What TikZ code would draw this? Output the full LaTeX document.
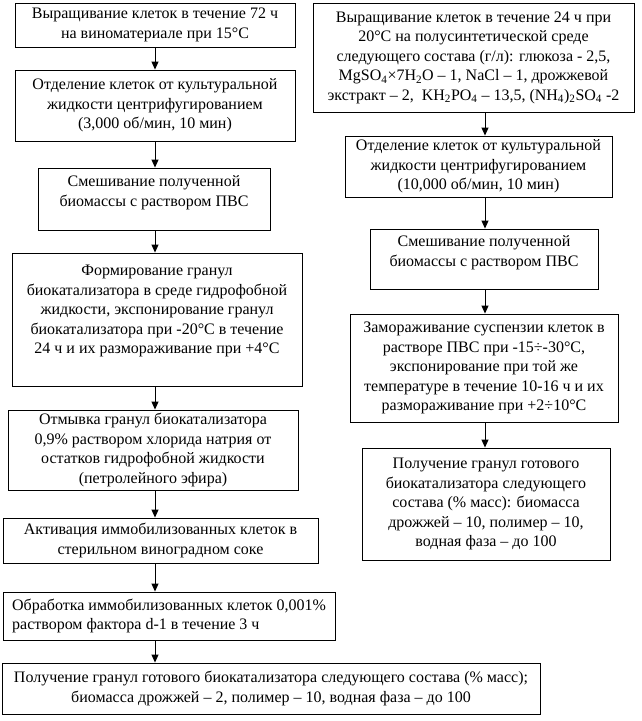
\documentclass[tikz,border=0pt]{standalone}
\usepackage{fontspec}
\setmainfont{Liberation Serif}
\usepackage{tikz}
\usetikzlibrary{arrows.meta, positioning}

\begin{document}
\begin{tikzpicture}[
  x=1pt, y=-1pt,
  every node/.style={font=\fontsize{16}{19.5}\selectfont},
  stage/.style={draw, line width=0.9pt, inner sep=2pt, align=center},
  arr/.style={line width=0.9pt, -{Triangle[length=8pt, width=7pt]}},
]
  \useasboundingbox (0,0) rectangle (641,721);

  % Column axes for the arrows
  \coordinate (colL) at (155,0);
  \coordinate (colR) at (485,0);

  % Left column
  \node[stage, minimum width=280pt, minimum height=44pt] (l1) at (155,25)
    {Выращивание клеток в течение 72 ч\\на виноматериале при 15°С};
  \node[stage, minimum width=280pt, minimum height=71pt] (l2) at (155,105.5)
    {Отделение клеток от культуральной\\жидкости центрифугированием\\(3,000 об/мин, 10 мин)};
  \node[stage, minimum width=232pt, minimum height=62pt] (l3) at (154,199)
    {Смешивание полученной\\биомассы с раствором ПВС\\[-4pt]\mbox{}};
  \node[stage, minimum width=290pt, minimum height=133pt] (l4) at (157,319.5)
    {Формирование гранул\\биокатализатора в среде гидрофобной\\жидкости, экспонирование гранул\\биокатализатора при -20°С в течение\\24 ч и их размораживание при +4°С\\\mbox{}};
  \node[stage, minimum width=290pt, minimum height=80pt] (l5) at (153,450)
    {Отмывка гранул биокатализатора\\0,9\% раствором хлорида натрия от\\остатков гидрофобной жидкости\\(петролейного эфира)};
  \node[stage, minimum width=315pt, minimum height=45pt] (l6) at (160.5,540.5)
    {Активация иммобилизованных клеток в\\стерильном виноградном соке};
  \node[stage, align=left, minimum width=332pt, minimum height=48pt] (l7) at (169,616)
    {Обработка иммобилизованных клеток 0,001\%\\раствором фактора d-1 в течение 3 ч};
  \node[stage, minimum width=538pt, minimum height=51pt] (l8) at (271,688.5)
    {Получение гранул готового биокатализатора следующего состава (\% масс);\\биомасса дрожжей – 2, полимер – 10, водная фаза – до 100};

  % Right column
  \node[stage, minimum width=321pt, minimum height=109pt] (r1) at (473.5,57.5)
    {Выращивание клеток в течение 24 ч при\\20°С на полусинтетической среде\\следующего состава (г/л): глюкоза - 2,5,\\MgSO\textsubscript{4}×7H\textsubscript{2}O – 1, NaCl – 1, дрожжевой\\экстракт – 2,~ KH\textsubscript{2}PO\textsubscript{4} – 13,5, (NH\textsubscript{4})\textsubscript{2}SO\textsubscript{4} -2};
  \node[stage, minimum width=267pt, minimum height=61pt] (r2) at (478.5,166.5)
    {Отделение клеток от культуральной\\жидкости центрифугированием\\(10,000 об/мин, 10 мин)};
  \node[stage, minimum width=228pt, minimum height=60pt] (r3) at (484,259)
    {Смешивание полученной\\биомассы с раствором ПВС\\[-4pt]\mbox{}};
  \node[stage, minimum width=268pt, minimum height=108pt] (r4) at (484,368)
    {Замораживание суспензии клеток в\\растворе ПВС при -15÷-30°С,\\экспонирование при той же\\температуре в течение 10-16 ч и их\\размораживание при +2÷10°С};
  \node[stage, minimum width=248pt, minimum height=112pt] (r5) at (486,504)
    {Получение гранул готового\\биокатализатора следующего\\состава (\% масс): биомасса\\дрожжей – 10, полимер – 10,\\водная фаза – до 100};

  % Arrows
  \foreach \a/\b in {l1/l2, l2/l3, l3/l4, l4/l5, l5/l6, l6/l7, l7/l8}
    \draw[arr] (\a.south -| colL) -- (\b.north -| colL);
  \foreach \a/\b in {r1/r2, r2/r3, r3/r4, r4/r5}
    \draw[arr] (\a.south -| colR) -- (\b.north -| colR);
\end{tikzpicture}
\end{document}
